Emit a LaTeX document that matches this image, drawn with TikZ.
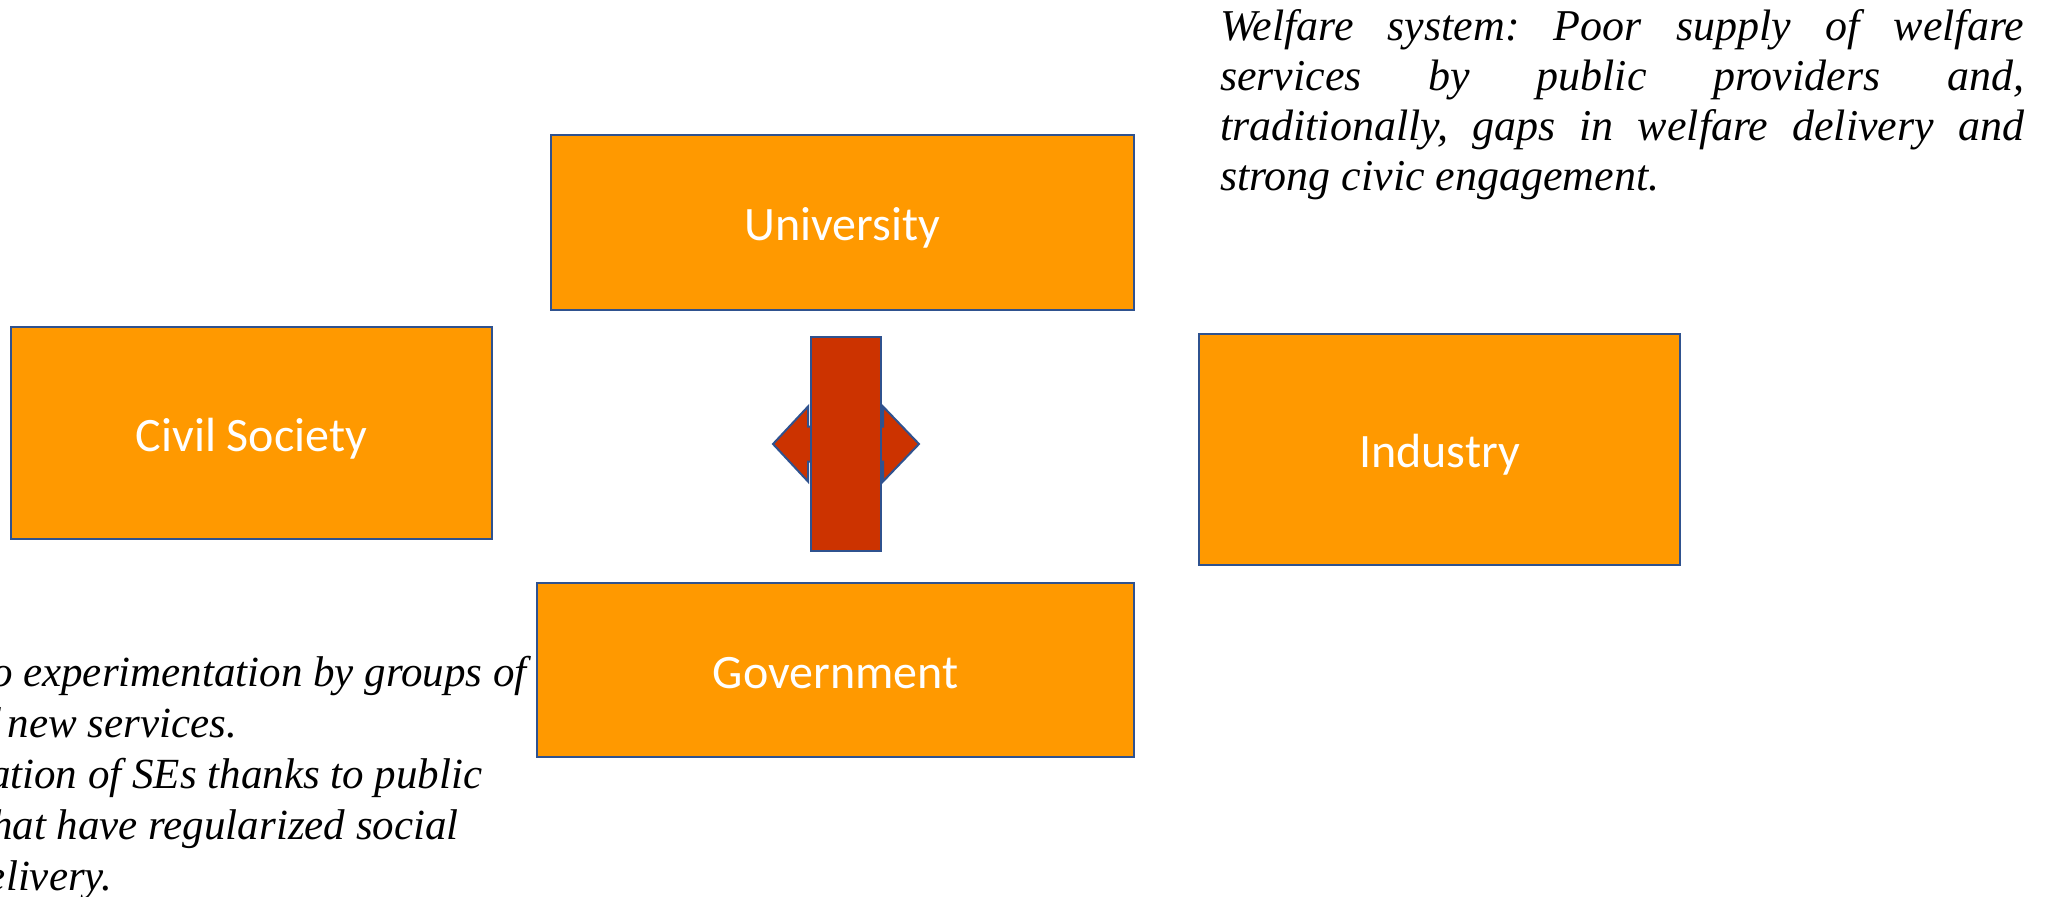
\documentclass[tikz,border=0pt]{standalone}
\usepackage{fontspec}
\setmainfont{Liberation Serif}
\newfontfamily\calibrifont{Carlito}
\usepackage{xcolor}
\usepackage{tikz}

\definecolor{boxorange}{HTML}{FF9900}
\definecolor{boxblue}{HTML}{2F528F}
\definecolor{arrowred}{HTML}{CC3300}

\frenchspacing

\begin{document}
\begin{tikzpicture}[
		x=0.5pt,
		y=-0.5pt,
		line width=1pt,
		actor/.style={draw=boxblue, fill=boxorange, text=white, inner sep=0pt, text height=23pt, text depth=4.6pt, font=\calibrifont\fontsize{24}{29}\selectfont},
		hub/.style={draw=boxblue, fill=arrowred},
		note/.style={anchor=north west, inner sep=0pt, font=\itshape\fontsize{22}{25}\selectfont}
		]
	
	% Frame of the slide
	\useasboundingbox (0, 0) rectangle (2060, 896);
	\clip (0, 0) rectangle (2060, 896);
	
	% Actors
	\node[actor, minimum width=291.5pt, minimum height=87.5pt] (university) at (842.5, 222.5) {University};
	\node[actor, minimum width=240.5pt, minimum height=106pt] (civil) at (251.5, 433) {Civil Society};
	\node[actor, minimum width=240.5pt, minimum height=115.5pt] (industry) at (1439.5, 449.5) {Industry};
	\node[actor, minimum width=298.5pt, minimum height=87pt] (government) at (835.5, 670) {Government};
	
	% Two-way arrow in the middle
	\draw[hub] (773, 444) -- (808, 406.5) -- (808, 426.5) -- (883, 426.5) -- (883, 406.5)
		-- (919, 444) -- (883, 481.5) -- (883, 461.5) -- (808, 461.5) -- (808, 481.5) -- cycle;
	\draw[hub] (811, 337) rectangle (881, 551);
	
	% Notes
	\node[note, text width=402pt, align=justify] (welfare) at (1219, 9) {\hyphenpenalty=10000
		Welfare system: Poor supply of welfare\linebreak
		services by public providers and,\linebreak
		traditionally, gaps in welfare delivery and\linebreak
		strong civic engagement.};
	\node[note, align=left, font=\itshape\fontsize{21.5}{25.5}\selectfont] (experiment) at (-10, 655) {o experimentation by groups of\\
		\hspace*{-3pt}f new services.\\
		\hspace*{-1pt}ation of SEs thanks to public\\
		hat have regularized social\\
		\hspace*{-2pt}elivery.};
	
\end{tikzpicture}
\end{document}
